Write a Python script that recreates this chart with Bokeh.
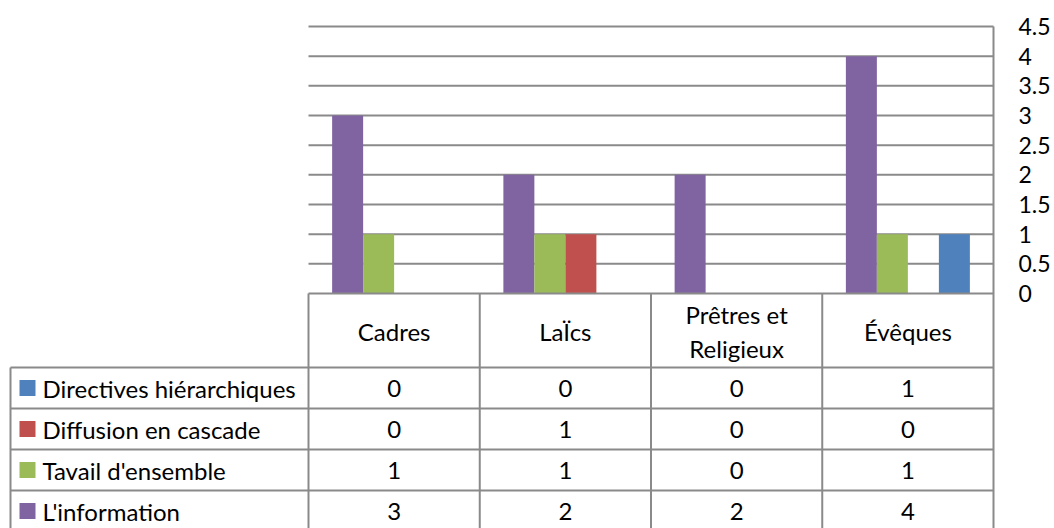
from bokeh.plotting import figure
from bokeh.models import Range1d, LinearAxis, FixedTicker
from bokeh.core.properties import value
from bokeh.embed import file_html
from bokeh.resources import INLINE

# ---------------- data ----------------
categories = ["Cadres", "LaÏcs", "Prêtres et\nReligieux", "Évêques"]
series_names = ["L'information", "Tavail d'ensemble", "Diffusion en cascade", "Directives hiérarchiques"]
information = [3, 2, 2, 4]
travail = [1, 1, 0, 1]
diffusion = [0, 1, 0, 0]
directives = [0, 0, 0, 1]
series_values = [information, travail, diffusion, directives]
colors = ["#8064A2", "#9BBB59", "#C0504D", "#4F81BD"]
y_ticks = [0, 0.5, 1, 1.5, 2, 2.5, 3, 3.5, 4, 4.5]
y_tick_labels = ["0", "0.5", "1", "1.5", "2", "2.5", "3", "3.5", "4", "4.5"]

# ---------------- layout constants ----------------
FONT = "Lato"
FS = "24px"
AX_FS = "23px"
GRID = "#8a8a8a"
PX_UNIT_X = 171.25          # px per category
PX_UNIT_Y = 59.33           # px per value unit
FRAME_W, FRAME_H = 995, 528
ZERO_X_PX = 308             # frame px from left where category 0 starts
ZERO_Y_PX = 293             # frame px from top where value 0 lies
BAR_W = 31 / PX_UNIT_X
HEADER_H = 74
ROW_H = 41
LEG_LEFT = -298 / PX_UNIT_X

x0 = -ZERO_X_PX / PX_UNIT_X
x1 = x0 + FRAME_W / PX_UNIT_X
y1 = ZERO_Y_PX / PX_UNIT_Y
y0 = y1 - FRAME_H / PX_UNIT_Y

p = figure(frame_width=FRAME_W, frame_height=FRAME_H,
           x_range=Range1d(x0, x1), y_range=Range1d(y0, y1),
           x_axis_type=None, y_axis_type=None,
           output_backend="svg", toolbar_location=None,
           min_border_left=0, min_border_top=0, min_border_bottom=0, min_border_right=59)
p.outline_line_color = None
p.background_fill_color = "white"
p.border_fill_color = "white"
# table coordinates: pixels below the zero line (flipped)
p.extra_y_ranges = {"tbl": Range1d(FRAME_H - ZERO_Y_PX, -ZERO_Y_PX)}

n_cat = len(categories)
n_ser = len(series_values)

# gridlines
grid_ticks = [t for t in y_ticks if t > 0]
p.segment(x0=[0] * len(grid_ticks), x1=[n_cat] * len(grid_ticks), y0=grid_ticks, y1=grid_ticks,
          line_color=GRID, line_width=2)

# bars
for s, (vals, col) in enumerate(zip(series_values, colors)):
    off = (s - (n_ser - 1) / 2) * BAR_W
    xs = [i + 0.5 + off for i, v in enumerate(vals) if v > 0]
    tops = [v for v in vals if v > 0]
    p.vbar(x=xs, top=tops, bottom=0, width=BAR_W, fill_color=col, line_color=None)

# right axis
ax = LinearAxis(ticker=FixedTicker(ticks=y_ticks),
                major_label_overrides={t: l for t, l in zip(y_ticks, y_tick_labels)},
                axis_line_color=None, major_tick_line_color=None, minor_tick_line_color=None,
                major_tick_out=0, major_tick_in=0, minor_tick_out=0, minor_tick_in=0,
                major_label_standoff=23, major_label_text_font=FONT,
                major_label_text_font_size=AX_FS, major_label_text_color="black")
p.add_layout(ax, "right")

# right border of plot + table
p.segment(x0=[n_cat], x1=[n_cat], y0=[max(y_ticks)], y1=[y0], line_color=GRID, line_width=2)

# table lines
row_tops = [HEADER_H + k * ROW_H for k in range(n_ser)]
tbl_bottom = FRAME_H - ZERO_Y_PX + 5
p.segment(x0=[0], x1=[n_cat], y0=[0], y1=[0], line_color=GRID, line_width=2, y_range_name="tbl")
p.segment(x0=[LEG_LEFT] * n_ser, x1=[n_cat] * n_ser, y0=row_tops, y1=row_tops,
          line_color=GRID, line_width=2, y_range_name="tbl")
p.segment(x0=list(range(n_cat)), x1=list(range(n_cat)), y0=[0] * n_cat, y1=[tbl_bottom] * n_cat,
          line_color=GRID, line_width=2, y_range_name="tbl")
p.segment(x0=[LEG_LEFT], x1=[LEG_LEFT], y0=[HEADER_H], y1=[tbl_bottom],
          line_color=GRID, line_width=2, y_range_name="tbl")

# header
p.text(x=[i + 0.5 for i in range(n_cat)], y=[HEADER_H / 2 + 1] * n_cat, text=categories,
       text_font=value(FONT), text_font_size=FS, text_align="center", text_baseline="middle",
       text_line_height=1.15, text_color="black", y_range_name="tbl")

# rows: top to bottom reverse series order
order = list(range(n_ser))[::-1]
for r, s in enumerate(order):
    yc = HEADER_H + r * ROW_H + ROW_H / 2
    p.rect(x=[LEG_LEFT + 17 / PX_UNIT_X], y=[yc], width=16, height=16,
           width_units="screen", height_units="screen",
           fill_color=colors[s], line_color=None, y_range_name="tbl")
    p.text(x=[LEG_LEFT + 32 / PX_UNIT_X], y=[yc], text=[series_names[s]],
           text_font=value(FONT), text_font_size=FS, text_align="left", text_baseline="middle",
           text_color="black", y_range_name="tbl")
    p.text(x=[i + 0.5 for i in range(n_cat)], y=[yc] * n_cat,
           text=[str(v) for v in series_values[s]],
           text_font=value(FONT), text_font_size=FS, text_align="center", text_baseline="middle",
           text_color="black", y_range_name="tbl")

open("out.html", "w").write(file_html(p, INLINE))
